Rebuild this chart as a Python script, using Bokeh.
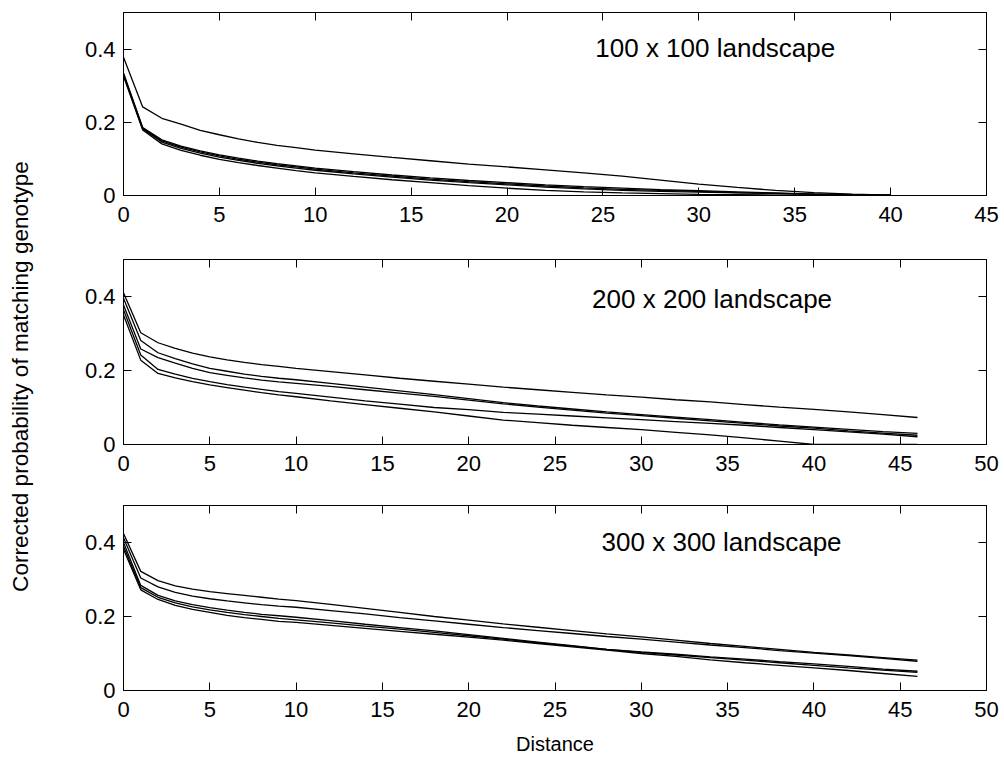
import math
from bokeh.plotting import figure
from bokeh.layouts import row, column
from bokeh.models import Range1d, LinearAxis, FixedTicker, CustomJSTickFormatter
from bokeh.core.properties import value
from bokeh.embed import file_html
from bokeh.resources import INLINE

FONT = "Liberation Sans"

# ---------------- data ----------------
TOP_X = [0, 1, 2, 3, 4, 5, 6, 7, 8, 9, 10, 12, 14, 16, 18, 20, 22, 24, 26, 28, 30, 32, 34, 36, 38, 40]
T1 = [0.378, 0.242, 0.211, 0.195, 0.178, 0.166, 0.155, 0.145, 0.137, 0.131, 0.124, 0.114, 0.104, 0.095, 0.086, 0.078, 0.070, 0.062, 0.053, 0.042, 0.031, 0.022, 0.014, 0.008, 0.004, 0.001]
T2 = [0.335, 0.186, 0.152, 0.135, 0.122, 0.111, 0.102, 0.094, 0.087, 0.081, 0.075, 0.065, 0.056, 0.048, 0.041, 0.035, 0.029, 0.024, 0.020, 0.016, 0.013, 0.010, 0.007, 0.004, 0.002, 0.001]
T3 = [0.332, 0.184, 0.149, 0.132, 0.119, 0.108, 0.099, 0.091, 0.084, 0.078, 0.072, 0.062, 0.053, 0.045, 0.038, 0.032, 0.026, 0.021, 0.017, 0.014, 0.011, 0.008, 0.006, 0.004, 0.002, 0.001]
T4 = [0.330, 0.182, 0.146, 0.129, 0.116, 0.105, 0.096, 0.088, 0.081, 0.075, 0.069, 0.059, 0.050, 0.042, 0.035, 0.029, 0.023, 0.018, 0.014, 0.011, 0.009, 0.007, 0.005, 0.003, 0.001, 0.000]
T5 = [0.326, 0.179, 0.141, 0.123, 0.110, 0.099, 0.090, 0.082, 0.075, 0.068, 0.062, 0.052, 0.043, 0.035, 0.027, 0.020, 0.014, 0.010, 0.007, 0.005, 0.003, 0.002, 0.001, 0.000, 0.000, 0.000]

MID_X = [0, 1, 2, 3, 4, 5, 6, 7, 8, 9, 10, 12, 14, 16, 18, 20, 22, 24, 26, 28, 30, 32, 34, 36, 38, 40, 42, 44, 46]
M1 = [0.410, 0.302, 0.275, 0.260, 0.247, 0.237, 0.229, 0.222, 0.216, 0.211, 0.206, 0.197, 0.188, 0.179, 0.171, 0.163, 0.155, 0.148, 0.141, 0.134, 0.128, 0.121, 0.115, 0.108, 0.101, 0.095, 0.088, 0.081, 0.073]
M2 = [0.395, 0.281, 0.248, 0.232, 0.218, 0.206, 0.198, 0.190, 0.184, 0.179, 0.175, 0.165, 0.155, 0.145, 0.135, 0.124, 0.113, 0.104, 0.096, 0.088, 0.081, 0.074, 0.067, 0.060, 0.053, 0.047, 0.041, 0.035, 0.030]
M3 = [0.377, 0.258, 0.235, 0.220, 0.206, 0.194, 0.187, 0.180, 0.174, 0.169, 0.165, 0.157, 0.148, 0.139, 0.130, 0.120, 0.110, 0.101, 0.093, 0.085, 0.078, 0.071, 0.064, 0.057, 0.050, 0.044, 0.037, 0.031, 0.025]
M4 = [0.364, 0.242, 0.203, 0.190, 0.179, 0.170, 0.162, 0.155, 0.149, 0.143, 0.138, 0.128, 0.118, 0.109, 0.100, 0.094, 0.087, 0.082, 0.077, 0.072, 0.067, 0.062, 0.057, 0.052, 0.046, 0.040, 0.034, 0.028, 0.021]
M5 = [0.350, 0.228, 0.192, 0.180, 0.170, 0.161, 0.154, 0.147, 0.140, 0.134, 0.129, 0.118, 0.108, 0.098, 0.088, 0.077, 0.066, 0.059, 0.052, 0.046, 0.040, 0.033, 0.026, 0.018, 0.009, 0.000, 0.000, 0.000, 0.000]

BOT_X = [0, 1, 2, 3, 4, 5, 6, 7, 8, 9, 10, 12, 14, 16, 18, 20, 22, 24, 26, 28, 30, 32, 34, 36, 38, 40, 42, 44, 46]
B1 = [0.424, 0.322, 0.297, 0.283, 0.274, 0.267, 0.262, 0.257, 0.252, 0.247, 0.243, 0.233, 0.222, 0.211, 0.200, 0.190, 0.180, 0.171, 0.162, 0.153, 0.145, 0.136, 0.127, 0.119, 0.111, 0.103, 0.096, 0.089, 0.082]
B2 = [0.413, 0.304, 0.280, 0.265, 0.255, 0.248, 0.242, 0.237, 0.232, 0.228, 0.225, 0.216, 0.207, 0.197, 0.188, 0.179, 0.170, 0.162, 0.154, 0.146, 0.139, 0.131, 0.123, 0.116, 0.108, 0.101, 0.094, 0.087, 0.079]
B3 = [0.400, 0.284, 0.257, 0.242, 0.232, 0.224, 0.217, 0.211, 0.206, 0.202, 0.198, 0.189, 0.179, 0.170, 0.161, 0.151, 0.141, 0.131, 0.121, 0.111, 0.104, 0.098, 0.091, 0.085, 0.078, 0.072, 0.065, 0.058, 0.052]
B4 = [0.390, 0.278, 0.252, 0.237, 0.226, 0.218, 0.211, 0.205, 0.200, 0.195, 0.191, 0.183, 0.174, 0.166, 0.157, 0.148, 0.139, 0.129, 0.120, 0.111, 0.103, 0.096, 0.089, 0.082, 0.075, 0.068, 0.061, 0.055, 0.049]
B5 = [0.382, 0.272, 0.246, 0.230, 0.219, 0.211, 0.203, 0.197, 0.192, 0.187, 0.184, 0.176, 0.168, 0.160, 0.152, 0.144, 0.136, 0.127, 0.118, 0.109, 0.100, 0.092, 0.083, 0.075, 0.068, 0.061, 0.054, 0.046, 0.038]

PANEL_TITLES = ["100 x 100 landscape", "200 x 200 landscape", "300 x 300 landscape"]
X_MAX = [45, 50, 50]
X_TICKS = [[0, 5, 10, 15, 20, 25, 30, 35, 40, 45], [0, 5, 10, 15, 20, 25, 30, 35, 40, 45, 50], [0, 5, 10, 15, 20, 25, 30, 35, 40, 45, 50]]
Y_TICKS = [0, 0.2, 0.4]
Y_LABEL = "Corrected probability of matching genotype"
X_LABEL = "Distance"

TICK_FS = "22px"


def make_panel(xs, series, xmax, xticks, title, tx, ty, height, top, bottom, xlabel=None):
    p = figure(width=964, height=height, x_range=Range1d(0, xmax), y_range=Range1d(0, 0.5),
               output_backend="svg", toolbar_location=None,
               min_border_left=87, min_border_right=14, min_border_top=top, min_border_bottom=bottom,
               x_axis_location=None, y_axis_location=None)
    p.grid.visible = False
    p.outline_line_color = "black"
    p.outline_line_width = 1
    p.background_fill_color = "white"
    p.border_fill_color = "white"

    for ys in series:
        p.line(xs, ys, line_color="black", line_width=1.3)

    p.text(x=[tx], y=[ty], text=[title], text_font=value(FONT), text_font_size="26px",
           text_align="left", text_baseline="middle", text_color="black")

    def style(ax, labels=True):
        ax.axis_line_color = "black"
        ax.major_tick_line_color = "black"
        ax.major_tick_in = 8
        ax.major_tick_out = 0
        ax.minor_tick_line_color = None
        ax.major_label_text_font = FONT
        ax.major_label_text_color = "black"
        if labels:
            ax.major_label_text_font_size = TICK_FS
            ax.major_label_standoff = 11
        else:
            ax.major_label_text_font_size = "0px"
            ax.major_label_standoff = 0
            ax.formatter = CustomJSTickFormatter(code="return '';")

    xb = LinearAxis(ticker=FixedTicker(ticks=xticks))
    style(xb)
    xb.major_label_overrides = {t: str(t) for t in xticks}
    if xlabel:
        xb.axis_label = xlabel
        xb.axis_label_text_font = FONT
        xb.axis_label_text_font_size = "20px"
        xb.axis_label_text_font_style = "normal"
        xb.axis_label_text_color = "black"
        xb.axis_label_standoff = 13
    p.add_layout(xb, "below")

    xt = LinearAxis(ticker=FixedTicker(ticks=xticks))
    style(xt, labels=False)
    p.add_layout(xt, "above")

    yl = LinearAxis(ticker=FixedTicker(ticks=Y_TICKS))
    style(yl)
    yl.major_label_overrides = {0: "0", 0.2: "0.2", 0.4: "0.4"}
    yl.major_label_standoff = 8
    p.add_layout(yl, "left")

    yr = LinearAxis(ticker=FixedTicker(ticks=Y_TICKS))
    style(yr, labels=False)
    p.add_layout(yr, "right")
    return p


p1 = make_panel(TOP_X, [T1, T2, T3, T4, T5], X_MAX[0], X_TICKS[0], PANEL_TITLES[0], 24.6, 0.404, 249, 12, 54)
p2 = make_panel(MID_X, [M1, M2, M3, M4, M5], X_MAX[1], X_TICKS[1], PANEL_TITLES[1], 27.15, 0.394, 246, 10, 51)
p3 = make_panel(BOT_X, [B1, B2, B3, B4, B5], X_MAX[2], X_TICKS[2], PANEL_TITLES[2], 27.7, 0.402, 267, 10, 72, xlabel=X_LABEL)

LH = 762
lab = figure(width=36, height=LH, x_range=Range1d(0, 36), y_range=Range1d(0, LH),
             output_backend="svg", toolbar_location=None, min_border=0,
             x_axis_location=None, y_axis_location=None)
lab.grid.visible = False
lab.outline_line_color = None
lab.text(x=[20], y=[LH - 376], text=[Y_LABEL], angle=math.pi / 2, text_align="center",
         text_baseline="middle", text_font=value(FONT), text_font_size="22.6px", text_color="black")

layout = row(lab, column(p1, p2, p3))
open("out.html", "w").write(file_html(layout, INLINE))
